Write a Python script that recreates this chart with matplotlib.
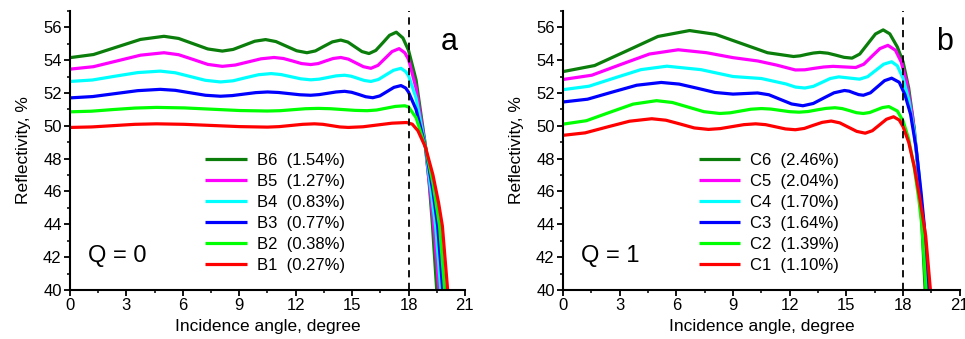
import matplotlib
matplotlib.use("Agg")
import matplotlib.pyplot as plt
from matplotlib.ticker import MultipleLocator

plt.rcParams['font.family'] = ['Liberation Sans', 'DejaVu Sans']

# ---------------- Panel a (Q = 0) ----------------
angle_B6 = [0, 1.25, 2.5, 3.75, 5.0, 5.775, 6.55, 7.325, 8.1, 8.675, 9.25, 9.825, 10.4, 10.95, 11.5, 12.05, 12.6, 13.05, 13.5, 13.95, 14.4, 14.775, 15.15, 15.525, 15.9, 16.26, 16.63, 16.99, 17.35, 17.7, 18.0, 18.4, 18.9, 19.1, 19.27, 19.5]
refl_B6 = [54.15, 54.34, 54.80, 55.26, 55.45, 55.32, 55.0, 54.68, 54.55, 54.65, 54.9, 55.15, 55.25, 55.13, 54.85, 54.57, 54.45, 54.56, 54.84, 55.11, 55.22, 55.10, 54.81, 54.52, 54.4, 54.59, 55.05, 55.51, 55.7, 55.35, 54.6, 52.8, 48.8, 46.5, 44.0, 40.0]

angle_B5 = [0, 1.25, 2.5, 3.75, 5.0, 5.775, 6.55, 7.325, 8.1, 8.79, 9.475, 10.16, 10.85, 11.34, 11.825, 12.31, 12.8, 13.2, 13.6, 14.0, 14.4, 14.8, 15.2, 15.6, 16.0, 16.375, 16.75, 17.125, 17.5, 17.8, 18.0, 18.4, 18.9, 19.2, 19.37, 19.62]
refl_B5 = [53.45, 53.60, 53.95, 54.30, 54.45, 54.33, 54.04, 53.74, 53.62, 53.70, 53.89, 54.08, 54.16, 54.10, 53.95, 53.79, 53.73, 53.79, 53.95, 54.10, 54.16, 54.06, 53.83, 53.60, 53.5, 53.68, 54.1, 54.52, 54.7, 54.45, 54.05, 52.3, 48.7, 45.5, 43.6, 40.0]

angle_B4 = [0, 1.2, 2.4, 3.6, 4.8, 5.6, 6.4, 7.2, 8.0, 8.675, 9.35, 10.025, 10.7, 11.225, 11.75, 12.275, 12.8, 13.25, 13.7, 14.15, 14.6, 14.95, 15.3, 15.65, 16.0, 16.4, 16.8, 17.2, 17.6, 17.85, 18.0, 18.4, 18.9, 19.25, 19.45, 19.72]
refl_B4 = [52.7, 52.79, 53.02, 53.24, 53.33, 53.23, 53.0, 52.77, 52.67, 52.74, 52.93, 53.11, 53.18, 53.12, 52.99, 52.86, 52.8, 52.84, 52.94, 53.04, 53.08, 53.02, 52.89, 52.76, 52.7, 52.82, 53.1, 53.38, 53.5, 53.3, 53.05, 51.7, 48.7, 45.6, 43.8, 40.0]

angle_B3 = [0, 1.2, 2.4, 3.6, 4.8, 5.6, 6.4, 7.2, 8.0, 8.625, 9.25, 9.875, 10.5, 11.075, 11.65, 12.225, 12.8, 13.25, 13.7, 14.15, 14.6, 14.975, 15.35, 15.725, 16.1, 16.475, 16.85, 17.225, 17.6, 17.85, 18.0, 18.4, 18.9, 19.3, 19.55, 19.82]
refl_B3 = [51.7, 51.78, 51.96, 52.14, 52.22, 52.16, 52.01, 51.86, 51.8, 51.84, 51.93, 52.02, 52.06, 52.03, 51.96, 51.89, 51.86, 51.90, 51.98, 52.06, 52.1, 52.04, 51.91, 51.77, 51.71, 51.82, 52.08, 52.34, 52.45, 52.3, 52.05, 51.0, 48.7, 46.0, 43.9, 40.0]

angle_B2 = [0, 1.15, 2.3, 3.45, 4.6, 6.075, 7.55, 9.025, 10.5, 11.175, 11.85, 12.525, 13.2, 13.85, 14.5, 15.15, 15.8, 16.3, 16.8, 17.3, 17.8, 18.0, 18.4, 18.9, 19.3, 19.65, 19.92]
refl_B2 = [50.85, 50.89, 50.99, 51.08, 51.12, 51.09, 51.01, 50.93, 50.9, 50.92, 50.98, 51.04, 51.06, 51.04, 50.99, 50.94, 50.92, 50.96, 51.07, 51.18, 51.22, 51.15, 50.5, 48.7, 46.5, 43.9, 40.0]

angle_B1 = [0, 1.15, 2.3, 3.45, 4.6, 6.075, 7.55, 9.025, 10.5, 11.125, 11.75, 12.375, 13.0, 13.45, 13.9, 14.35, 14.8, 15.575, 16.35, 17.125, 17.9, 18.2, 18.5, 18.9, 19.3, 19.6, 19.8, 20.08]
refl_B1 = [49.9, 49.93, 50.01, 50.09, 50.12, 50.09, 50.02, 49.95, 49.92, 49.95, 50.02, 50.09, 50.12, 50.09, 50.01, 49.93, 49.9, 49.94, 50.05, 50.16, 50.2, 50.1, 49.7, 48.7, 47.0, 45.3, 43.9, 40.0]

labels_a = ["B6  (1.54%)", "B5  (1.27%)", "B4  (0.83%)", "B3  (0.77%)", "B2  (0.38%)", "B1  (0.27%)"]

# ---------------- Panel b (Q = 1) ----------------
angle_C6 = [0, 1.675, 3.35, 5.025, 6.7, 8.075, 9.45, 10.825, 12.2, 12.55, 12.9, 13.25, 13.6, 14.025, 14.45, 14.875, 15.3, 15.71, 16.125, 16.54, 16.95, 17.3, 17.7, 18.0, 18.3, 18.6, 18.85, 19.0, 19.17]
refl_C6 = [53.3, 53.67, 54.55, 55.44, 55.8, 55.57, 55.01, 54.45, 54.22, 54.26, 54.35, 54.43, 54.47, 54.42, 54.30, 54.17, 54.12, 54.37, 54.98, 55.59, 55.84, 55.6, 54.8, 53.9, 52.3, 49.8, 46.5, 44.0, 40.0]

angle_C5 = [0, 1.525, 3.05, 4.575, 6.1, 7.6, 9.0, 10.3, 11.3, 12.3, 12.8, 13.3, 13.8, 14.3, 14.9, 15.5, 15.925, 16.35, 16.775, 17.2, 17.6, 17.9, 18.2, 18.5, 18.8, 19.05, 19.25]
refl_C5 = [52.82, 53.08, 53.73, 54.37, 54.63, 54.45, 54.15, 53.95, 53.7, 53.4, 53.41, 53.50, 53.58, 53.62, 53.585, 53.55, 53.75, 54.23, 54.70, 54.9, 54.6, 53.9, 52.6, 50.6, 47.5, 44.0, 40.0]

angle_C4 = [0, 1.375, 2.75, 4.125, 5.5, 7.3, 9.0, 10.5, 11.8, 12.3, 12.8, 13.25, 13.7, 14.15, 14.6, 15.15, 15.7, 16.125, 16.55, 16.975, 17.4, 17.7, 18.0, 18.3, 18.6, 18.85, 19.07, 19.3]
refl_C4 = [52.2, 52.41, 52.92, 53.42, 53.63, 53.42, 53.0, 52.88, 52.55, 52.36, 52.3, 52.40, 52.64, 52.88, 52.98, 52.91, 52.84, 52.99, 53.37, 53.75, 53.9, 53.65, 52.9, 51.6, 49.6, 47.0, 44.0, 40.0]

angle_C3 = [0, 1.3, 2.6, 3.9, 5.2, 6.15, 7.1, 8.05, 9.0, 9.65, 10.3, 10.9, 11.5, 12.1, 12.7, 13.25, 13.8, 14.35, 14.9, 15.15, 15.4, 15.65, 15.9, 16.275, 16.65, 17.025, 17.4, 17.8, 18.1, 18.4, 18.7, 18.95, 19.12, 19.35]
refl_C3 = [51.45, 51.62, 52.05, 52.47, 52.64, 52.54, 52.29, 52.03, 51.93, 51.965, 52.0, 51.89, 51.61, 51.33, 51.22, 51.36, 51.69, 52.01, 52.15, 52.11, 52.0, 51.9, 51.86, 52.01, 52.38, 52.75, 52.9, 52.65, 51.9, 50.7, 48.6, 46.0, 44.0, 40.0]

angle_C2 = [0, 1.24, 2.475, 3.71, 4.95, 5.79, 6.625, 7.46, 8.3, 8.85, 9.4, 9.95, 10.5, 11.0, 11.5, 12.0, 12.5, 12.975, 13.45, 13.925, 14.4, 14.775, 15.15, 15.525, 15.9, 16.24, 16.575, 16.91, 17.25, 17.7, 18.0, 18.3, 18.6, 18.85, 19.0, 19.22]
refl_C2 = [50.1, 50.31, 50.82, 51.32, 51.53, 51.42, 51.14, 50.86, 50.75, 50.79, 50.9, 51.01, 51.05, 51.02, 50.94, 50.86, 50.83, 50.87, 50.97, 51.06, 51.1, 51.05, 50.93, 50.80, 50.75, 50.81, 50.96, 51.11, 51.17, 50.9, 50.3, 49.2, 47.4, 45.4, 43.9, 40.0]

angle_C1 = [0, 1.175, 2.35, 3.525, 4.7, 5.45, 6.2, 6.95, 7.7, 8.325, 8.95, 9.575, 10.2, 10.725, 11.25, 11.775, 12.3, 12.775, 13.25, 13.725, 14.2, 14.65, 15.1, 15.55, 16.0, 16.375, 16.75, 17.125, 17.5, 17.8, 18.0, 18.3, 18.6, 18.9, 19.2, 19.45]
refl_C1 = [49.42, 49.57, 49.93, 50.28, 50.43, 50.34, 50.11, 49.87, 49.78, 49.83, 49.95, 50.07, 50.12, 50.07, 49.94, 49.81, 49.76, 49.84, 50.03, 50.21, 50.29, 50.18, 49.92, 49.66, 49.55, 49.70, 50.05, 50.40, 50.55, 50.35, 49.95, 49.0, 47.5, 45.5, 43.3, 40.0]

labels_b = ["C6  (2.46%)", "C5  (2.04%)", "C4  (1.70%)", "C3  (1.64%)", "C2  (1.39%)", "C1  (1.10%)"]

colors = ["#0a7d0a", "#ff00ff", "#00ffff", "#0000ff", "#00ff00", "#ff0000"]
x_ticks = [0, 3, 6, 9, 12, 15, 18, 21]
y_ticks = [40, 42, 44, 46, 48, 50, 52, 54, 56]

series_a = [(angle_B6, refl_B6), (angle_B5, refl_B5), (angle_B4, refl_B4),
            (angle_B3, refl_B3), (angle_B2, refl_B2), (angle_B1, refl_B1)]
series_b = [(angle_C6, refl_C6), (angle_C5, refl_C5), (angle_C4, refl_C4),
            (angle_C3, refl_C3), (angle_C2, refl_C2), (angle_C1, refl_C1)]

fig = plt.figure(figsize=(9.65, 3.39), dpi=100)
ax_a = fig.add_axes([0.0725, 0.1445, 0.4093, 0.8235])
ax_b = fig.add_axes([0.5834, 0.1445, 0.4111, 0.8235])


def style(ax, series, labels, qtext, letter):
    for (x, y), c, lab in zip(series, colors, labels):
        ax.plot(x, y, color=c, lw=2.3, label=lab, solid_capstyle='butt',
                solid_joinstyle='round')
    ax.axvline(18, color='black', lw=1.3, ls=(0, (4, 3)))
    ax.set_xlim(0, 21)
    ax.set_ylim(40, 57)
    ax.set_xticks(x_ticks)
    ax.set_yticks(y_ticks)
    ax.xaxis.set_minor_locator(MultipleLocator(1.5))
    ax.yaxis.set_minor_locator(MultipleLocator(1))
    for s in ['top', 'right']:
        ax.spines[s].set_visible(False)
    for s in ['left', 'bottom']:
        ax.spines[s].set_linewidth(1.5)
    ax.tick_params(which='major', direction='out', length=4, width=1.3, labelsize=12, pad=2)
    ax.tick_params(which='minor', direction='out', length=2.5, width=1.1)
    ax.set_xlabel("Incidence angle, degree", fontsize=12.5, labelpad=4)
    ax.set_ylabel("Reflectivity, %", fontsize=12.5, labelpad=9)
    ax.legend(loc='upper left', bbox_to_anchor=(0.342, 0.49), frameon=False,
              fontsize=12, handlelength=2.5, handletextpad=0.6,
              labelspacing=0.36, borderpad=0, borderaxespad=0)
    ax.text(0.046, 0.122, qtext, transform=ax.transAxes, fontsize=17,
            ha='left', va='center')
    ax.text(0.94, 0.86, letter, transform=ax.transAxes, fontsize=22,
            ha='left', va='baseline')


style(ax_a, series_a, labels_a, "Q = 0", "a")
style(ax_b, series_b, labels_b, "Q = 1", "b")

fig.savefig("out.png", dpi=100)
